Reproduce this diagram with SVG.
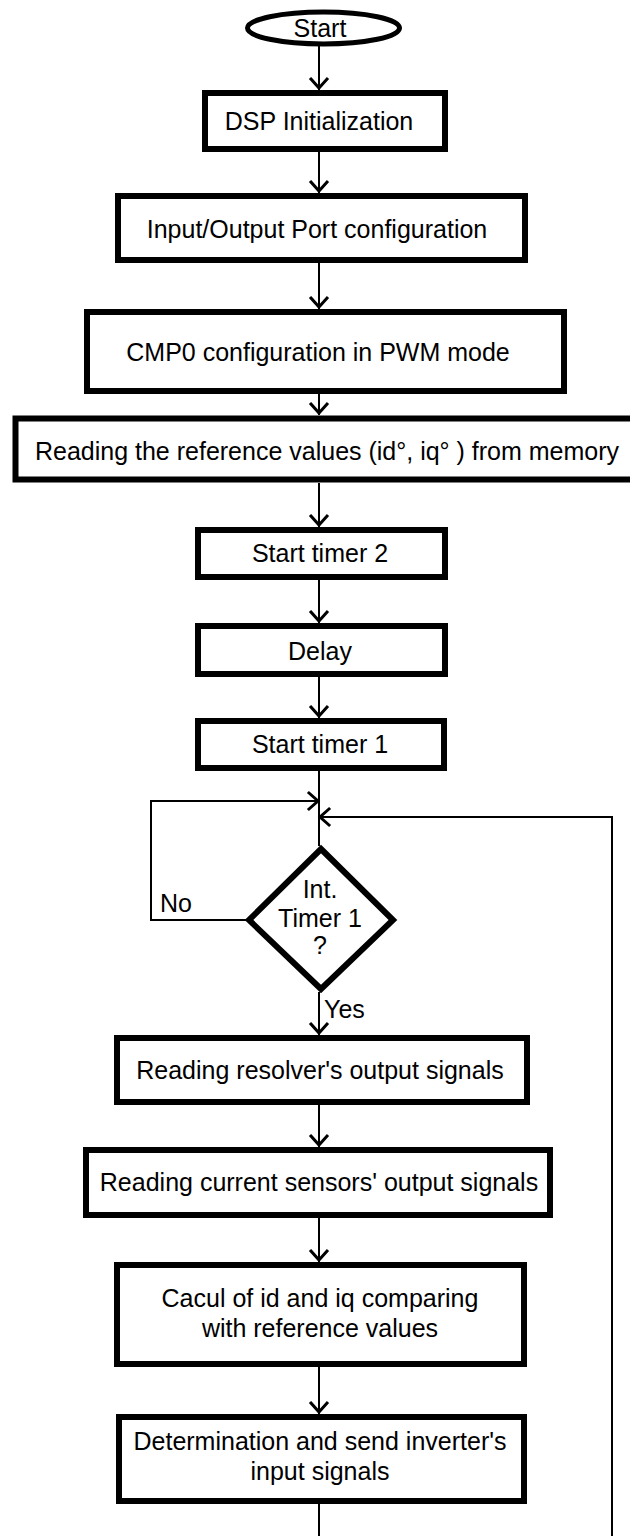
<svg xmlns="http://www.w3.org/2000/svg" width="630" height="1536" viewBox="0 0 630 1536">
<style>
.box{fill:#fff;stroke:#000;stroke-width:6}
.t{font-family:"Liberation Sans",Arial,sans-serif;font-size:25px;fill:#000;text-anchor:middle}
.tl{font-family:"Liberation Sans",Arial,sans-serif;font-size:25px;fill:#000}
.c{fill:none;stroke:#000;stroke-width:2}
.ah{fill:none;stroke:#000;stroke-width:3;stroke-linecap:square;stroke-linejoin:miter}
</style>
<rect width="630" height="1536" fill="#fff"/>
<g id="connectors">
<line class="c" x1="319" y1="46" x2="319" y2="90"/>
<polyline class="ah" points="311,79 319,88 327,79"/>
<line class="c" x1="319" y1="152" x2="319" y2="193"/>
<polyline class="ah" points="311,182 319,191 327,182"/>
<line class="c" x1="319" y1="263" x2="319" y2="309"/>
<polyline class="ah" points="311,298 319,307 327,298"/>
<line class="c" x1="319" y1="394" x2="319" y2="415"/>
<polyline class="ah" points="311,404 319,413 327,404"/>
<line class="c" x1="319" y1="483" x2="319" y2="527"/>
<polyline class="ah" points="311,516 319,525 327,516"/>
<line class="c" x1="319" y1="580" x2="319" y2="623"/>
<polyline class="ah" points="311,612 319,621 327,612"/>
<line class="c" x1="319" y1="677" x2="319" y2="718"/>
<polyline class="ah" points="311,707 319,716 327,707"/>
<line class="c" x1="319" y1="771" x2="319" y2="846"/>
<polyline class="c" points="246,920 151,920 151,801 319,801"/>
<polyline class="ah" points="309,793 318,801 309,809"/>
<polyline class="c" points="612,1536 612,817 319,817"/>
<polyline class="ah" points="329,809 320,817 329,825"/>
<line class="c" x1="319" y1="992" x2="319" y2="1035"/>
<polyline class="ah" points="311,1024 319,1033 327,1024"/>
<line class="c" x1="319" y1="1105" x2="319" y2="1147"/>
<polyline class="ah" points="311,1136 319,1145 327,1136"/>
<line class="c" x1="319" y1="1218" x2="319" y2="1262"/>
<polyline class="ah" points="311,1251 319,1260 327,1251"/>
<line class="c" x1="319" y1="1367" x2="319" y2="1414"/>
<polyline class="ah" points="311,1403 319,1412 327,1403"/>
<line class="c" x1="319" y1="1501" x2="319" y2="1536"/>
</g>
<g id="start"><ellipse cx="323.5" cy="28" rx="76" ry="16" fill="#fff" stroke="#000" stroke-width="5"/><text class="t" x="320" y="37">Start</text></g>
<g id="dsp"><rect class="box" x="205" y="93" width="240" height="56"/><text class="t" x="319" y="130">DSP Initialization</text></g>
<g id="io"><rect class="box" x="118" y="196" width="407" height="64"/><text class="t" x="317" y="238">Input/Output Port configuration</text></g>
<g id="cmp0"><rect class="box" x="87" y="312" width="477" height="79"/><text class="t" x="318" y="361">CMP0 configuration in PWM mode</text></g>
<g id="ref"><rect class="box" x="15.5" y="418.5" width="640" height="61" stroke-width="7"/><text class="t" x="327" y="460">Reading the reference values (id°, iq° ) from memory</text></g>
<g id="timer2"><rect class="box" x="198" y="530" width="247" height="47"/><text class="t" x="320" y="562">Start timer 2</text></g>
<g id="delay"><rect class="box" x="198" y="626" width="247" height="48"/><text class="t" x="320" y="660">Delay</text></g>
<g id="timer1"><rect class="box" x="198" y="721" width="246" height="47"/><text class="t" x="320" y="753">Start timer 1</text></g>
<g id="decision"><polygon points="321,849 393,920 321,989 249,920" fill="#fff" stroke="#000" stroke-width="6"/>
<text class="t" x="320" y="898">Int.</text><text class="t" x="320" y="927">Timer 1</text><text class="t" x="320" y="954">?</text></g>
<g id="labels"><text class="tl" x="160" y="912">No</text><text class="tl" x="324" y="1018">Yes</text></g>
<g id="resolver"><rect class="box" x="117" y="1038" width="410" height="64"/><text class="t" x="320" y="1079">Reading resolver's output signals</text></g>
<g id="current"><rect class="box" x="86" y="1150" width="464" height="65"/><text class="t" x="319" y="1191">Reading current sensors' output signals</text></g>
<g id="cacul"><rect class="box" x="117" y="1265" width="407" height="99"/><text class="t" x="320" y="1307">Cacul of id and iq comparing</text><text class="t" x="320" y="1337">with reference values</text></g>
<g id="determination"><rect class="box" x="119" y="1417" width="405" height="84"/><text class="t" x="320" y="1450">Determination and send inverter's</text><text class="t" x="320" y="1480">input signals</text></g>
</svg>
